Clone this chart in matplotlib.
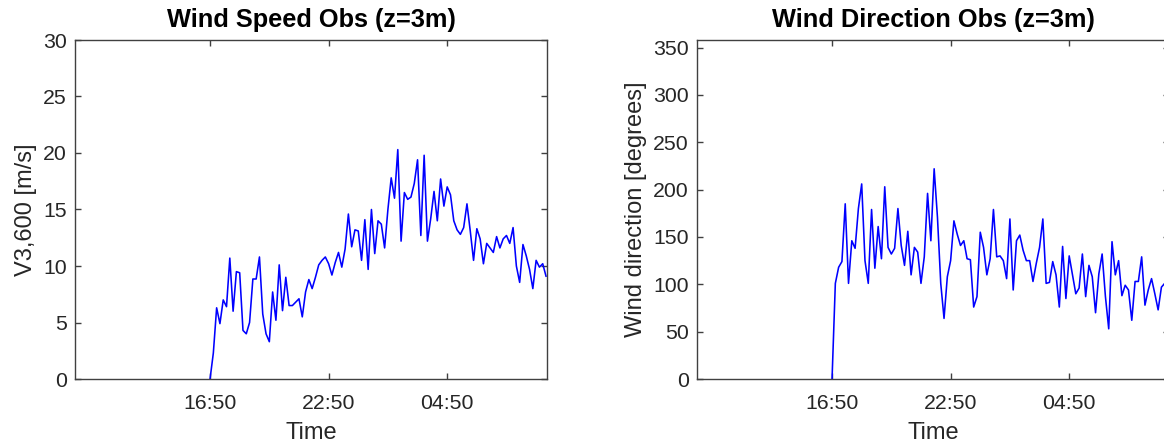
import pandas as pd
import matplotlib
matplotlib.use("Agg")
import matplotlib.pyplot as plt

plt.rcParams['font.family'] = ['Liberation Sans', 'DejaVu Sans']

# Observation timing (10-minute records)
start_time = "2019-09-10 16:50"
interval = "10min"
view_start = "2019-09-10 10:00"
view_end = "2019-09-11 09:53"
tick_times = ["2019-09-10 16:50", "2019-09-10 22:50", "2019-09-11 04:50"]
tick_labels = ["16:50", "22:50", "04:50"]

# Hourly-mean wind speed V3,600 [m/s]
wind_speed = [0, 2.3, 6.3, 4.9, 7.0, 6.4, 10.7, 6.0, 9.5, 9.4,
              4.3, 4.0, 5.0, 8.85, 8.85, 10.8, 5.75, 4.0, 3.3, 7.7,
              5.2, 10.1, 6.05, 9.0, 6.5, 6.5, 6.8, 7.1, 5.5, 7.7,
              8.8, 8.0, 9.0, 10.1, 10.5, 10.8, 10.2, 9.2, 10.3, 11.2,
              9.9, 11.5, 14.6, 11.7, 13.2, 13.1, 10.5, 14.1, 9.7, 15.0,
              11.1, 14.0, 13.7, 11.6, 15.0, 17.8, 16.0, 20.3, 12.2, 16.5,
              15.9, 16.1, 17.3, 19.4, 12.7, 19.8, 12.2, 14.2, 16.6, 14.0,
              17.7, 15.3, 17.0, 16.3, 14.0, 13.2, 12.8, 13.4, 15.5, 13.1,
              10.5, 13.3, 12.4, 10.2, 12.0, 11.6, 11.2, 12.6, 11.6, 12.4,
              12.7, 12.0, 13.4, 10.0, 8.55, 11.9, 10.9, 9.7, 8.0, 10.5,
              9.9, 10.2, 9.1]

# Wind direction [degrees]
wind_dir = [0, 101, 118, 124, 185, 101, 146, 138, 180, 206,
            125, 101, 179, 117, 161, 127, 203, 139, 132, 138,
            180, 141, 120, 156, 110, 139, 134, 101, 129, 196,
            146, 222, 171, 101, 64, 108, 125, 167, 153, 141,
            146, 127, 126, 76, 87, 155, 139, 110, 127, 179,
            129, 130, 125, 106, 169, 94, 146, 152, 136, 125,
            125, 103, 122, 139, 169, 101, 102, 124, 110, 76,
            140, 85, 130, 110, 90, 96, 132, 87, 120, 108,
            70, 111, 132, 87, 53, 145, 110, 125, 88, 99,
            94, 62, 103, 103, 129, 78, 94, 106, 90, 73,
            97, 101, 64]

speed_time = pd.date_range(start_time, periods=len(wind_speed), freq=interval)
dir_time = pd.date_range(start_time, periods=len(wind_dir), freq=interval)

W, H = 1164, 448
fig = plt.figure(figsize=(W / 100, H / 100), dpi=100)
ax1 = fig.add_axes([75 / W, 1 - 379 / H, 472 / W, 339 / H])
ax2 = fig.add_axes([697 / W, 1 - 379 / H, 472 / W, 339 / H])

axis_color = '#404040'
text_color = '#262626'


def style(ax, title, ylabel, ymax, yticks):
    ax.set_xlim(pd.Timestamp(view_start), pd.Timestamp(view_end))
    ax.set_ylim(0, ymax)
    ax.set_yticks(yticks)
    ax.set_xticks([pd.Timestamp(t) for t in tick_times])
    ax.set_xticklabels(tick_labels)
    ax.tick_params(direction='in', length=4, width=1.0, color=axis_color,
                   top=True, right=True, labelsize=15.3, labelcolor=text_color)
    ax.tick_params(axis='y', pad=6)
    ax.tick_params(axis='x', pad=11)
    for s in ax.spines.values():
        s.set_color(axis_color)
        s.set_linewidth(1.0)
    ax.set_title(title, fontsize=18.3, fontweight='bold', pad=9, color='black')
    ax.set_xlabel("Time", fontsize=17, color=text_color, labelpad=6)
    ax.set_ylabel(ylabel, fontsize=17, color=text_color, labelpad=4)


ax1.plot(speed_time, wind_speed, color='#0000ff', lw=1.15)
style(ax1, "Wind Speed Obs (z=3m)", "V3,600 [m/s]", 30, range(0, 31, 5))

ax2.plot(dir_time, wind_dir, color='#0000ff', lw=1.15)
style(ax2, "Wind Direction Obs (z=3m)", "Wind direction [degrees]", 358,
      range(0, 351, 50))

fig.savefig("out.png", dpi=100)
